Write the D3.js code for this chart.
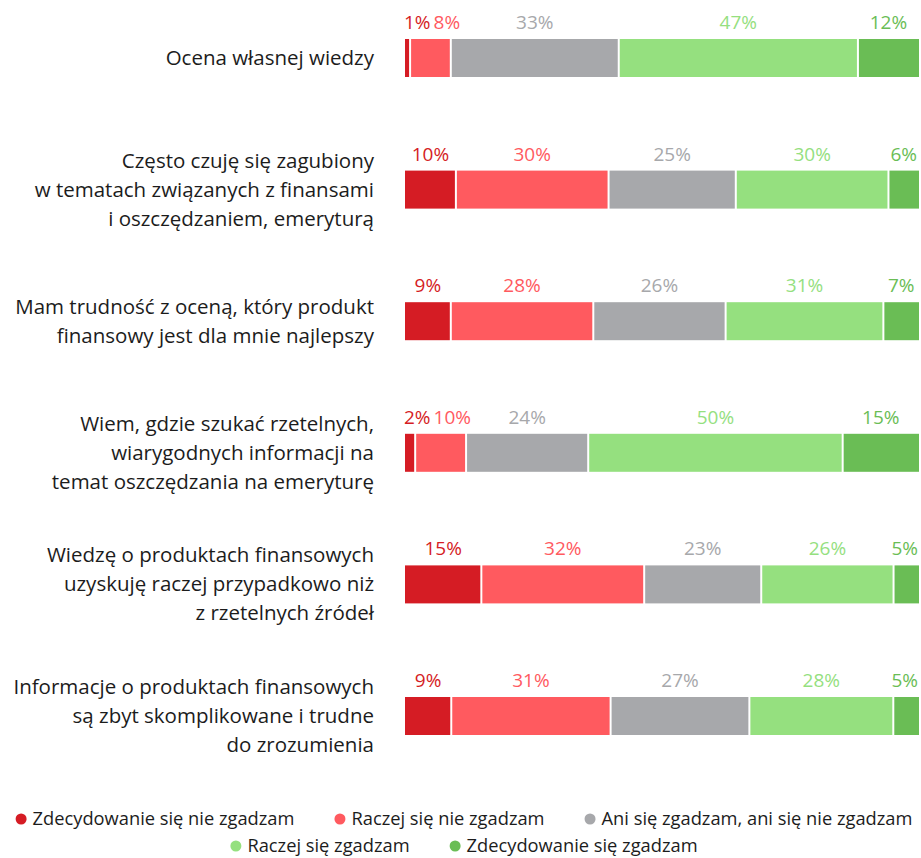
<!DOCTYPE html>
<html lang="pl">
<head>
<meta charset="utf-8">
<script src="https://cdn.jsdelivr.net/npm/d3@7/dist/d3.min.js"></script>
<style>
  html, body { margin: 0; padding: 0; background: #fff; }
  svg { display: block; font-family: "Open Sans", "Noto Sans", sans-serif; }
</style>
</head>
<body>
<svg id="chart" width="921" height="858"></svg>
<script>
// Survey statements (one line per array entry)
const categories = [
  ["Ocena własnej wiedzy"],
  ["Często czuję się zagubiony", "w tematach związanych z finansami", "i oszczędzaniem, emeryturą"],
  ["Mam trudność z oceną, który produkt", "finansowy jest dla mnie najlepszy"],
  ["Wiem, gdzie szukać rzetelnych,", "wiarygodnych informacji na", "temat oszczędzania na emeryturę"],
  ["Wiedzę o produktach finansowych", "uzyskuję raczej przypadkowo niż", "z rzetelnych źródeł"],
  ["Informacje o produktach finansowych", "są zbyt skomplikowane i trudne", "do zrozumienia"]
];

const seriesNames = [
  "Zdecydowanie się nie zgadzam",
  "Raczej się nie zgadzam",
  "Ani się zgadzam, ani się nie zgadzam",
  "Raczej się zgadzam",
  "Zdecydowanie się zgadzam"
];

const seriesColors = ["#d51c24", "#ff5a5f", "#a7a8ab", "#95e07f", "#6abd55"];

// Share of answers (%) per statement, in series order
const strongDisagree = [1, 10, 9, 2, 15, 9];
const disagree       = [8, 30, 28, 10, 32, 31];
const neutral        = [33, 25, 26, 24, 23, 27];
const agree          = [47, 30, 31, 50, 26, 28];
const strongAgree    = [12, 6, 7, 15, 5, 5];

const seriesValues = [strongDisagree, disagree, neutral, agree, strongAgree];

const svg = d3.select("#chart");
const barLeft = 405, barRight = 919, barH = 38;
const labelX = 374;

const keys = categories.map((c, i) => "r" + i);
const y = d3.scalePoint().domain(keys).range([58, 716]);

const rowsG = svg.append("g");

keys.forEach((key, i) => {
  const vals = seriesValues.map(s => s[i]);
  const total = d3.sum(vals);
  const x = d3.scaleLinear().domain([0, total]).range([barLeft, barRight]);
  const cy = y(key);
  const g = rowsG.append("g");

  // segments, separated by thin white gaps
  let acc = 0;
  const segs = vals.map((v, k) => {
    const s = { v, k, x0: x(acc), x1: x(acc + v) };
    acc += v;
    return s;
  });

  g.selectAll("rect").data(segs).join("rect")
    .attr("x", d => d.k === 0 ? d.x0 : d.x0 + 1)
    .attr("width", d => Math.max(0, d.x1 - d.x0 - (d.k === 0 ? 1 : 2) + (d.k === 4 ? 1 : 0)))
    .attr("y", cy - barH / 2)
    .attr("height", barH)
    .attr("fill", d => seriesColors[d.k]);

  // value labels above each segment, nudged apart when they would collide
  const texts = g.selectAll("text.val").data(segs).join("text")
    .attr("class", "val")
    .attr("y", cy - barH / 2 - 10)
    .attr("font-size", 19)
    .attr("fill", d => seriesColors[d.k])
    .text(d => d.v + "%");

  const widths = [];
  texts.each(function () { widths.push(this.getComputedTextLength()); });
  const starts = segs.map((s, k) => (s.x0 + s.x1) / 2 - widths[k] / 2);
  starts[0] = Math.max(starts[0], barLeft - 1);
  for (let k = 1; k < starts.length; k++) {
    starts[k] = Math.max(starts[k], starts[k - 1] + widths[k - 1] + 3);
  }
  const last = starts.length - 1;
  if (starts[last] + widths[last] > barRight - 1) {
    starts[last] = barRight - 1 - widths[last];
    for (let k = last - 1; k >= 0; k--) {
      starts[k] = Math.min(starts[k], starts[k + 1] - widths[k] - 3);
    }
  }
  texts.attr("x", (d, k) => starts[k]);

  // statement text, right aligned and centred on the bar
  const lines = categories[i];
  const lh = 29;
  const t = g.append("text")
    .attr("text-anchor", "end")
    .attr("font-size", 20.5)
    .attr("fill", "#1c1c1c");
  lines.forEach((ln, j) => {
    t.append("tspan")
      .attr("x", labelX)
      .attr("y", cy + (j - (lines.length - 1) / 2) * lh + 7)
      .text(ln);
  });
});

// legend, wrapped over two centred lines
const legendLines = [[0, 1, 2], [3, 4]];
const legendY = [819, 846];
const legendCenter = 464;
const itemGap = 40;
const lg = svg.append("g").attr("font-size", 18.3).attr("fill", "#1c1c1c");

legendLines.forEach((idxs, li) => {
  const items = idxs.map(k => {
    const g = lg.append("g");
    g.append("circle").attr("cx", 5.5).attr("cy", 0).attr("r", 5.5).attr("fill", seriesColors[k]);
    const tx = g.append("text").attr("x", 17).attr("y", 6).text(seriesNames[k]);
    return { g, w: 17 + tx.node().getComputedTextLength() };
  });
  const totalW = d3.sum(items, d => d.w) + itemGap * (items.length - 1);
  let cx = legendCenter - totalW / 2;
  items.forEach(it => {
    it.g.attr("transform", `translate(${cx},${legendY[li]})`);
    cx += it.w + itemGap;
  });
});
</script>
</body>
</html>
